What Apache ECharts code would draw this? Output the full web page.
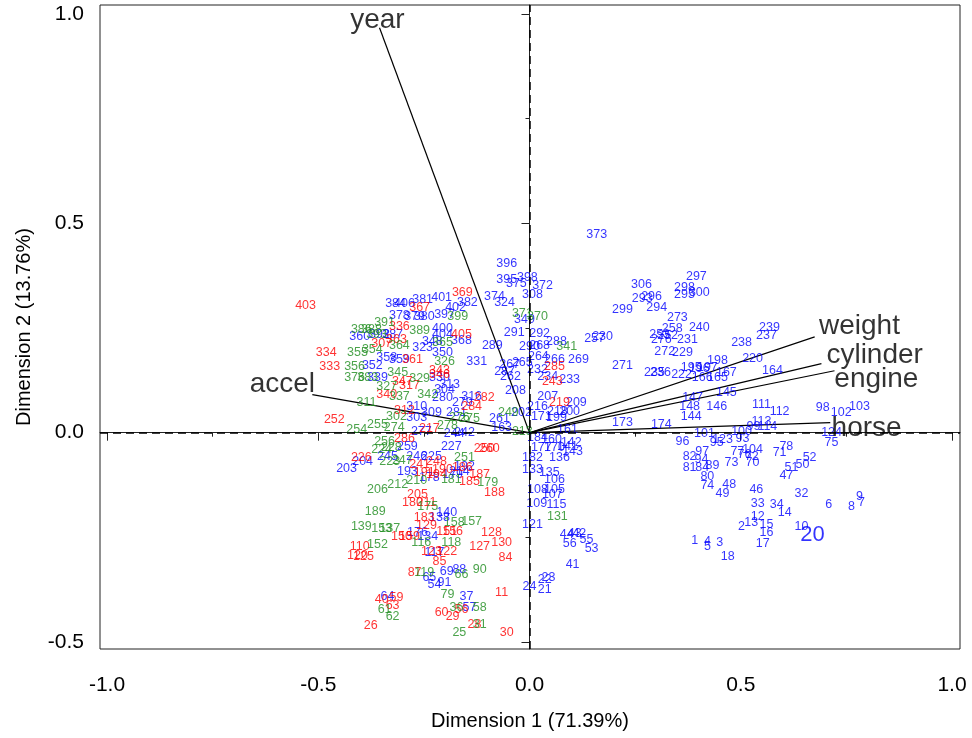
<!DOCTYPE html>
<html>
<head>
<meta charset="utf-8">
<script src="https://cdn.jsdelivr.net/npm/echarts@6/dist/echarts.min.js"></script>
<style>
  html, body { margin: 0; background: #fff; }
  #chart { width: 972px; height: 738px; }
</style>
</head>
<body>
<div id="chart"></div>
<script>
// observation scores [dim1, dim2, id], coloured by origin
const usaPoints = [
  [-0.253,0.318,'381'],[-0.208,0.322,'401'],[-0.317,0.308,'384'],[-0.296,0.308,'406'],[-0.175,0.299,'402'],[-0.147,0.310,'382'],
  [-0.308,0.279,'378'],[-0.272,0.277,'379'],[-0.249,0.277,'380'],[-0.201,0.282,'397'],[-0.206,0.248,'400'],[-0.402,0.229,'360'],
  [-0.355,0.234,'392'],[-0.324,0.234,'387'],[-0.206,0.234,'404'],[-0.230,0.217,'348'],[-0.161,0.220,'368'],[-0.253,0.203,'323'],
  [-0.206,0.191,'350'],[-0.338,0.179,'358'],[-0.308,0.174,'359'],[-0.372,0.160,'352'],[-0.213,0.131,'330'],[-0.189,0.115,'313'],
  [-0.360,0.131,'339'],[-0.201,0.103,'304'],[-0.206,0.084,'280'],[-0.125,0.170,'331'],[-0.267,0.062,'310'],[-0.267,0.036,'303'],
  [-0.232,0.048,'309'],[-0.256,0.002,'277'],[-0.289,-0.033,'259'],[-0.395,-0.069,'204'],[-0.433,-0.086,'203'],[-0.336,-0.057,'245'],
  [-0.267,-0.057,'246'],[-0.232,-0.057,'225'],[-0.289,-0.093,'193'],[-0.237,-0.107,'178'],[-0.137,0.086,'316'],[-0.159,0.072,'279'],
  [-0.173,0.048,'281'],[-0.178,-0.002,'244'],[-0.154,0.000,'242'],[-0.071,0.033,'261'],[-0.066,0.012,'163'],[-0.033,0.100,'208'],
  [-0.185,-0.033,'227'],[-0.154,-0.081,'192'],[-0.166,-0.093,'214'],[-0.182,-0.100,'179'],[-0.196,-0.191,'140'],[-0.213,-0.203,'138'],
  [-0.265,-0.239,'176'],[-0.241,-0.248,'134'],[-0.225,-0.287,'117'],[-0.196,-0.332,'69'],[-0.166,-0.327,'88'],[-0.237,-0.346,'65'],
  [-0.225,-0.363,'54'],[-0.201,-0.358,'91'],[-0.149,-0.392,'37'],[-0.336,-0.392,'64'],[-0.142,-0.418,'57'],
  [0.159,0.473,'373'],[-0.054,0.404,'396'],[-0.054,0.365,'395'],[-0.005,0.370,'398'],[-0.031,0.356,'375'],[0.031,0.351,'372'],
  [0.007,0.330,'308'],[-0.083,0.325,'374'],[-0.059,0.310,'324'],[-0.012,0.270,'349'],[-0.036,0.239,'291'],[0.024,0.236,'292'],
  [-0.088,0.208,'289'],[0.000,0.205,'290'],[0.024,0.208,'268'],[0.064,0.217,'288'],[0.173,0.229,'230'],[0.154,0.224,'257'],
  [0.116,0.174,'269'],[0.021,0.181,'264'],[0.059,0.174,'266'],[-0.017,0.167,'265'],[-0.047,0.162,'267'],[-0.059,0.146,'287'],
  [0.019,0.150,'232'],[0.095,0.127,'233'],[0.043,0.134,'234'],[-0.045,0.134,'262'],[0.043,0.086,'207'],[0.111,0.072,'209'],
  [0.019,0.062,'216'],[0.095,0.050,'200'],[0.066,0.050,'218'],[0.028,0.038,'171'],[0.064,0.036,'199'],[-0.019,0.048,'202'],
  [0.220,0.024,'173'],[0.090,0.007,'161'],[0.019,-0.012,'184'],[0.052,-0.017,'160'],[0.028,-0.036,'177'],[0.059,-0.036,'170'],
  [0.099,-0.024,'142'],[0.090,-0.033,'141'],[0.102,-0.045,'143'],[0.007,-0.060,'182'],[0.071,-0.060,'136'],[0.007,-0.088,'133'],
  [0.047,-0.096,'135'],[0.059,-0.112,'106'],[0.019,-0.136,'108'],[0.059,-0.136,'105'],[0.054,-0.148,'107'],[0.017,-0.170,'109'],
  [0.064,-0.172,'115'],[0.007,-0.220,'121'],[0.088,-0.244,'44'],[0.107,-0.241,'43'],[0.118,-0.241,'42'],[0.135,-0.256,'55'],
  [0.095,-0.265,'56'],[0.147,-0.277,'53'],[0.102,-0.315,'41'],[0.036,-0.351,'22'],[0.045,-0.346,'23'],[0.000,-0.368,'24'],
  [0.036,-0.375,'21'],
  [0.265,0.353,'306'],[0.395,0.373,'297'],[0.367,0.346,'298'],[0.367,0.330,'295'],[0.402,0.334,'300'],[0.289,0.325,'296'],
  [0.267,0.320,'293'],[0.301,0.299,'294'],[0.220,0.294,'299'],[0.350,0.275,'273'],[0.338,0.248,'258'],[0.402,0.251,'240'],
  [0.308,0.234,'253'],[0.327,0.232,'252'],[0.312,0.222,'276'],[0.374,0.222,'231'],[0.320,0.193,'272'],[0.362,0.191,'229'],
  [0.568,0.251,'239'],[0.561,0.232,'237'],[0.502,0.215,'238'],[0.528,0.177,'220'],[0.220,0.160,'271'],[0.445,0.172,'198'],
  [0.575,0.148,'164'],[0.296,0.143,'235'],[0.310,0.143,'236'],[0.360,0.139,'222'],[0.383,0.155,'195'],[0.402,0.153,'196'],
  [0.421,0.155,'197'],[0.466,0.143,'167'],[0.445,0.131,'165'],[0.409,0.131,'166'],[0.386,0.084,'147'],[0.466,0.096,'145'],
  [0.379,0.062,'148'],[0.443,0.062,'146'],[0.383,0.038,'144'],[0.549,0.067,'111'],[0.592,0.050,'112'],[0.694,0.060,'98'],
  [0.738,0.048,'102'],[0.781,0.062,'103'],[0.549,0.026,'113'],[0.563,0.014,'114'],[0.530,0.014,'99'],[0.715,0.000,'124'],
  [0.715,-0.024,'75'],[0.312,0.019,'174'],[0.414,-0.002,'101'],[0.502,0.002,'100'],[0.457,-0.017,'123'],[0.443,-0.024,'95'],
  [0.504,-0.014,'93'],[0.362,-0.021,'96'],[0.409,-0.045,'97'],[0.379,-0.057,'82'],[0.407,-0.064,'94'],[0.433,-0.079,'89'],
  [0.379,-0.084,'81'],[0.409,-0.084,'84'],[0.478,-0.072,'73'],[0.492,-0.045,'77'],[0.528,-0.041,'104'],[0.509,-0.053,'76'],
  [0.526,-0.057,'72'],[0.528,-0.072,'70'],[0.592,-0.048,'71'],[0.608,-0.033,'78'],[0.663,-0.060,'52'],[0.646,-0.076,'50'],
  [0.620,-0.084,'51'],[0.608,-0.103,'47'],[0.421,-0.105,'80'],[0.421,-0.127,'74'],[0.473,-0.124,'48'],[0.457,-0.146,'49'],
  [0.537,-0.136,'46'],[0.644,-0.146,'32'],[0.540,-0.170,'33'],[0.585,-0.172,'34'],[0.604,-0.191,'14'],[0.708,-0.172,'6'],
  [0.781,-0.153,'9'],[0.762,-0.177,'8'],[0.786,-0.167,'7'],[0.540,-0.201,'12'],[0.525,-0.215,'13'],[0.561,-0.220,'15'],
  [0.561,-0.239,'16'],[0.502,-0.224,'2'],[0.644,-0.224,'10'],[0.670,-0.244,'20'],[0.391,-0.258,'1'],[0.421,-0.260,'4'],
  [0.421,-0.272,'5'],[0.450,-0.263,'3'],[0.552,-0.265,'17'],[0.469,-0.296,'18']
];

const europePoints = [
  [-0.530,0.303,'403'],[-0.159,0.334,'369'],[-0.260,0.299,'367'],[-0.308,0.253,'336'],[-0.350,0.213,'307'],[-0.315,0.222,'363'],
  [-0.161,0.234,'405'],[-0.277,0.174,'361'],[-0.481,0.191,'334'],[-0.473,0.158,'333'],[-0.213,0.148,'343'],[-0.213,0.139,'346'],
  [-0.301,0.122,'347'],[-0.284,0.112,'317'],[-0.338,0.091,'340'],[-0.296,0.053,'312'],[-0.462,0.031,'252'],[-0.237,0.010,'217'],
  [-0.296,-0.014,'286'],[-0.398,-0.060,'226'],[-0.260,-0.076,'241'],[-0.220,-0.069,'248'],[-0.249,-0.096,'191'],[-0.265,-0.148,'205'],
  [-0.277,-0.167,'180'],[-0.244,-0.167,'211'],[-0.107,0.084,'282'],[-0.137,0.062,'284'],[-0.107,-0.038,'250'],[-0.095,-0.038,'260'],
  [-0.206,-0.088,'190'],[-0.220,-0.100,'194'],[-0.159,-0.084,'186'],[-0.142,-0.117,'185'],[-0.118,-0.100,'187'],[-0.083,-0.143,'188'],
  [-0.249,-0.203,'183'],[-0.244,-0.222,'129'],[-0.196,-0.236,'151'],[-0.182,-0.236,'156'],[-0.303,-0.248,'150'],[-0.284,-0.248,'159'],
  [-0.090,-0.239,'128'],[-0.118,-0.272,'127'],[-0.066,-0.263,'130'],[-0.402,-0.272,'110'],[-0.407,-0.294,'120'],[-0.393,-0.296,'125'],
  [-0.232,-0.284,'123'],[-0.196,-0.284,'122'],[-0.213,-0.308,'85'],[-0.057,-0.299,'84'],[-0.272,-0.334,'87'],[-0.066,-0.382,'11'],
  [-0.350,-0.399,'40'],[-0.315,-0.394,'59'],[-0.324,-0.413,'63'],[-0.376,-0.461,'26'],[-0.208,-0.430,'60'],[-0.182,-0.439,'29'],
  [-0.161,-0.423,'56'],[-0.130,-0.459,'28'],[-0.054,-0.478,'30'],[0.071,0.072,'219'],[0.059,0.158,'285'],[0.054,0.122,'243']
];

const japanPoints = [
  [-0.170,0.277,'399'],[-0.398,0.246,'386'],[-0.374,0.246,'388'],[-0.343,0.263,'391'],[-0.260,0.244,'389'],[-0.362,0.234,'393'],
  [-0.308,0.208,'364'],[-0.206,0.215,'365'],[-0.407,0.191,'355'],[-0.372,0.198,'354'],[-0.201,0.170,'326'],[-0.414,0.158,'356'],
  [-0.312,0.143,'345'],[-0.260,0.129,'329'],[-0.414,0.131,'376'],[-0.383,0.131,'383'],[-0.338,0.110,'327'],[-0.308,0.086,'337'],
  [-0.241,0.091,'342'],[-0.386,0.072,'311'],[-0.315,0.038,'302'],[-0.409,0.007,'254'],[-0.360,0.019,'255'],[-0.320,0.012,'274'],
  [-0.343,-0.021,'256'],[-0.350,-0.041,'224'],[-0.327,-0.036,'228'],[-0.331,-0.069,'223'],[-0.301,-0.067,'247'],[-0.360,-0.136,'206'],
  [-0.312,-0.124,'212'],[-0.267,-0.115,'210'],[-0.241,-0.177,'175'],[-0.365,-0.189,'189'],[-0.166,0.036,'276'],[-0.142,0.033,'275'],
  [-0.194,0.017,'278'],[-0.050,0.048,'249'],[-0.017,0.002,'213'],[-0.154,-0.060,'251'],[-0.185,-0.112,'181'],[-0.099,-0.119,'179'],
  [-0.178,-0.215,'158'],[-0.137,-0.213,'157'],[-0.398,-0.224,'139'],[-0.350,-0.229,'153'],[-0.331,-0.229,'137'],[-0.256,-0.263,'116'],
  [-0.185,-0.263,'118'],[-0.360,-0.267,'152'],[-0.249,-0.334,'119'],[-0.161,-0.339,'66'],[-0.118,-0.327,'90'],[-0.194,-0.387,'79'],
  [-0.343,-0.423,'61'],[-0.324,-0.439,'62'],[-0.173,-0.418,'36'],[-0.118,-0.418,'58'],[-0.118,-0.459,'31'],[-0.166,-0.478,'25'],
  [0.066,-0.201,'131'],[-0.017,0.284,'371'],[0.019,0.277,'370'],[0.088,0.205,'341']
];

// variable loadings
const varNames = ['year', 'accel', 'weight', 'cylinder', 'engine', 'horse'];
const varEnds = [[-0.355,0.967],[-0.514,0.091],[0.675,0.229],[0.691,0.165],[0.722,0.148],[0.712,0.024]];
const varLabelPos = [[-0.360,0.986],[-0.585,0.115],[0.781,0.253],[0.817,0.186],[0.821,0.127],[0.798,0.010]];
const bigLabels = ['20'];

const xRange = [-1.0166, 1.019];
const yRange = [-0.5166, 1.0215];
const majorX = [-1, -0.5, 0, 0.5, 1];
const minorX = [-0.75, -0.25, 0.25, 0.75];
const majorY = [-0.5, 0, 0.5, 1];
const minorY = [-0.25, 0.25, 0.75];

const FONT = '"Liberation Sans", Arial, sans-serif';

const chart = echarts.init(document.getElementById('chart'));

function pointSeries(name, pts, color) {
    return {
        name: name,
        type: 'scatter',
        symbolSize: 1,
        itemStyle: {color: 'rgba(0,0,0,0)'},
        label: {
            show: true, position: 'inside', color: color,
            fontSize: 12.5, fontFamily: FONT,
            formatter: p => p.value[2]
        },
        data: pts.map(p => bigLabels.includes(p[2])
            ? {value: p, label: {fontSize: 22}}
            : p),
        z: 3
    };
}

function axisPair(dim, range, major, minor, name) {
    const isX = dim === 'x';
    return [{
        type: 'value', min: range[0], max: range[1],
        position: isX ? 'bottom' : 'left',
        name: name, nameLocation: 'middle', nameGap: isX ? 62 : 66,
        nameTextStyle: {fontSize: 20, color: '#000', fontFamily: FONT},
        axisLine: {show: true, lineStyle: {color: '#222', width: 1}},
        axisTick: {show: true, customValues: major, length: 8, lineStyle: {color: '#222'}},
        axisLabel: {
            show: true, customValues: major, fontSize: 21, color: '#000', fontFamily: FONT,
            margin: isX ? 26 : 16,
            formatter: v => v.toFixed(1)
        },
        splitLine: {show: false}
    }, {
        type: 'value', min: range[0], max: range[1],
        position: isX ? 'bottom' : 'left',
        axisLine: {show: false},
        axisTick: {show: true, customValues: minor, length: 4, lineStyle: {color: '#222'}},
        axisLabel: {show: false},
        splitLine: {show: false}
    }];
}

const vectorSeries = varEnds.map((e, i) => ({
    name: varNames[i],
    type: 'line',
    data: [[0, 0], e],
    symbol: 'none',
    lineStyle: {color: '#000', width: 1.2},
    z: 2
}));

const option = {
    animation: false,
    backgroundColor: '#fff',
    grid: {left: 100, top: 5, width: 860, height: 644, show: true, borderColor: '#222', borderWidth: 1},
    xAxis: axisPair('x', xRange, majorX, minorX, 'Dimension 1 (71.39%)'),
    yAxis: axisPair('y', yRange, majorY, minorY, 'Dimension 2 (13.76%)'),
    series: [
        {
            type: 'line', data: [], symbol: 'none',
            markLine: {
                silent: true, symbol: 'none', label: {show: false},
                lineStyle: {color: '#000', type: [8, 5], width: 1.5},
                data: [{xAxis: 0}, {yAxis: 0}]
            }
        },
        ...vectorSeries,
        pointSeries('USA', usaPoints, '#0000ff'),
        pointSeries('Europe', europePoints, '#ff0000'),
        pointSeries('Japan', japanPoints, '#1e8c1e'),
        {
            type: 'scatter', symbolSize: 1,
            itemStyle: {color: 'rgba(0,0,0,0)'},
            label: {
                show: true, position: 'inside', color: '#000', fontSize: 28, fontFamily: FONT,
                formatter: p => p.value[2]
            },
            data: varLabelPos.map((p, i) => [p[0], p[1], varNames[i]]),
            z: 4
        }
    ]
};
chart.setOption(option);
</script>
</body>
</html>
